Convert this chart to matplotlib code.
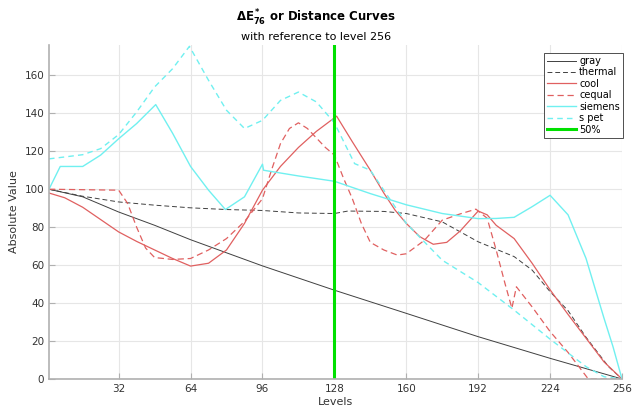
import matplotlib
matplotlib.use("Agg")
import matplotlib.pyplot as plt

# levels / distance values
gray_x = [1, 16, 32, 48, 64, 96, 128, 160, 192, 224, 256]
gray_y = [100, 96, 88, 81, 73.4, 59.6, 46.8, 34.6, 22.3, 10.9, 0]

thermal_x = [1, 16, 32, 48, 64, 80, 96, 112, 128, 134, 150, 160, 176, 192,
             208, 216, 224, 232, 240, 250, 256]
thermal_y = [100, 96.3, 93.3, 91.6, 90.2, 89.3, 88.8, 87.5, 87.2, 88.5, 88.3,
             87.2, 82.8, 72.3, 64.5, 57.4, 46, 36, 22, 6.5, 0]

cool_x = [1, 8, 16, 24, 32, 40, 48, 56, 64, 72, 80, 88, 96, 104, 112, 120, 129,
          136, 144, 150, 155, 160, 166, 172, 178, 184, 192, 196, 200, 208, 216,
          224, 232, 240, 248, 256]
cool_y = [98, 95.5, 90.5, 84, 77.5, 72.5, 68, 63.5, 59.5, 61, 68, 82, 99.5, 112,
          122, 130.5, 138.5, 125, 110, 98, 89, 82, 75, 71, 72, 78, 88.5, 86.5,
          81, 74, 61, 47, 34, 21.5, 9, 0]

cequal_x = [1, 32, 36, 40, 44, 48, 56, 64, 72, 80, 88, 92, 96, 100, 104, 108,
            112, 116, 120, 124, 128, 132, 136, 140, 144, 150, 156, 160, 168, 176,
            184, 191, 196, 200, 204, 207, 209, 216, 224, 232, 241, 256]
cequal_y = [100, 99.5, 92.5, 80, 69, 64, 63, 63.5, 68, 74, 83, 89, 95, 110, 124,
            132, 135, 132, 127, 122, 118, 106, 95, 82, 72, 68, 65.3, 66, 73, 83.7,
            87, 89.5, 84.7, 68, 50, 37.3, 48.6, 38, 25, 14, 0, 0]

siemens_x = [1, 6, 16, 24, 32, 40, 48.5, 56, 64, 72, 79.5, 88, 96, 96.5, 112,
             128, 144, 160, 176, 192, 200, 208, 216, 224, 232, 240, 248, 252, 256]
siemens_y = [100, 112, 112, 118, 126.6, 134.6, 144.6, 129.5, 112, 99.5, 89.3,
             96, 113.2, 110, 107, 104.2, 97.7, 91.8, 87.2, 84.5, 84.6, 85.2, 90.8,
             96.8, 86.5, 63.5, 32, 17, 0]

spet_x = [1, 8, 16, 24, 32, 40, 48, 56, 63.5, 72, 80, 88, 96, 104, 112, 120, 128,
          137, 144, 152, 160, 176, 192, 208, 224, 240, 248, 256]
spet_y = [116, 117, 118.2, 121.4, 128.8, 140.7, 153.9, 163.5, 175.3, 157.4,
          141.6, 132, 136.3, 146.8, 151.2, 146, 135, 113.5, 110, 96, 82, 62.6,
          50.8, 36.3, 21, 6.5, 1.2, 0]

mid_level = 128
x_ticks = [32, 64, 96, 128, 160, 192, 224, 256]
y_ticks = [0, 20, 40, 60, 80, 100, 120, 140, 160]

fig = plt.figure(figsize=(6.32, 4.07), dpi=100)
ax = fig.add_axes([49 / 632, 1 - 379 / 407, (622 - 49) / 632, (379 - 45) / 407])

ax.plot(gray_x, gray_y, color="#404040", lw=0.7, label="gray")
ax.plot(thermal_x, thermal_y, color="#404040", lw=0.7, ls=(0, (5, 3)), label="thermal")
ax.plot(cool_x, cool_y, color="#e06060", lw=0.9, label="cool")
ax.plot(cequal_x, cequal_y, color="#e06060", lw=0.9, ls=(0, (5, 3)), label="cequal")
ax.plot(siemens_x, siemens_y, color="#70f0f0", lw=1.0, label="siemens")
ax.plot(spet_x, spet_y, color="#70f0f0", lw=1.0, ls=(0, (4, 3)), label="s pet")
ax.axvline(mid_level, color="#00e000", lw=2.2, label="50%")

ax.set_xlim(1, 256)
ax.set_ylim(0, 176)
ax.set_xticks(x_ticks)
ax.set_yticks(y_ticks)
ax.grid(True, color="#e6e6e6", lw=0.8)
ax.set_axisbelow(True)
for s in ["top", "right"]:
    ax.spines[s].set_visible(False)
for s in ["left", "bottom"]:
    ax.spines[s].set_color("#b0b0b0")
    ax.spines[s].set_linewidth(1.2)
ax.tick_params(direction="in", length=4, color="#b0b0b0", labelsize=7.5,
               labelcolor="#333333")
ax.set_xlabel("Levels", fontsize=8, color="#333333", labelpad=2)
ax.set_ylabel("Absolute Value", fontsize=8, color="#333333", labelpad=4)

fig.text(0.5, 1 - 18 / 407, r"$\mathbf{\Delta E^*_{76}}$ or Distance Curves",
         ha="center", va="center", fontsize=8.5, fontweight="bold")
fig.text(0.5, 1 - 37 / 407, "with reference to level 256", ha="center",
         va="center", fontsize=8)

leg = ax.legend(loc="upper left", bbox_to_anchor=(544 / 632, 1 - 53 / 407),
                bbox_transform=fig.transFigure, fontsize=7, fancybox=False,
                framealpha=1, edgecolor="#333333", handlelength=3.0,
                labelspacing=0.15, borderpad=0.3, handletextpad=0.3,
                borderaxespad=0)
leg.get_frame().set_linewidth(0.6)

fig.savefig("out.png", dpi=100)
